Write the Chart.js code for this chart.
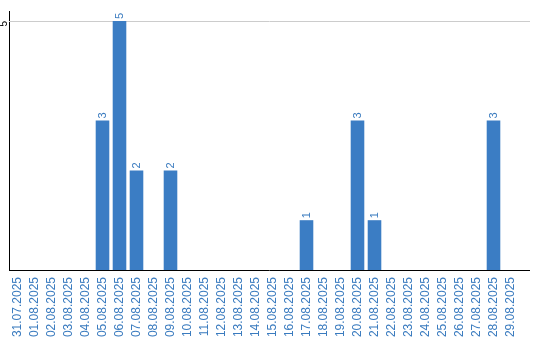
<!DOCTYPE html>
<html>
<head>
<meta charset="utf-8">
<script src="https://cdn.jsdelivr.net/npm/chart.js@4/dist/chart.umd.min.js"></script>
<style>
  html, body { margin: 0; padding: 0; background: #fff; }
  #wrap { width: 540px; height: 340px; position: relative; }
</style>
</head>
<body>
<div id="wrap"><canvas id="c" width="540" height="340"></canvas></div>
<script>
const categories = ["31.07.2025","01.08.2025","02.08.2025","03.08.2025","04.08.2025","05.08.2025","06.08.2025","07.08.2025","08.08.2025","09.08.2025","10.08.2025","11.08.2025","12.08.2025","13.08.2025","14.08.2025","15.08.2025","16.08.2025","17.08.2025","18.08.2025","19.08.2025","20.08.2025","21.08.2025","22.08.2025","23.08.2025","24.08.2025","25.08.2025","26.08.2025","27.08.2025","28.08.2025","29.08.2025"];
const counts = [0,0,0,0,0,3,5,2,0,2,0,0,0,0,0,0,0,1,0,0,3,1,0,0,0,0,0,0,3,0];
const yTicks = [5];

const BLUE = "#3b7dc4";
const TEXT_BLUE = "#3a7bbf";

const linesPlugin = {
  id: "lines",
  beforeDatasetsDraw(chart) {
    const ctx = chart.ctx, y = chart.scales.y, a = chart.chartArea;
    ctx.save();
    ctx.strokeStyle = "#cccccc";
    ctx.lineWidth = 1;
    yTicks.forEach(v => {
      const py = Math.round(y.getPixelForValue(v)) + 0.5;
      ctx.beginPath(); ctx.moveTo(a.left, py); ctx.lineTo(chart.width - 10, py); ctx.stroke();
    });
    ctx.restore();
  },
  afterDatasetsDraw(chart) {
    const ctx = chart.ctx, y = chart.scales.y, a = chart.chartArea;
    ctx.save();
    ctx.strokeStyle = "#000";
    ctx.lineWidth = 1;
    const py = Math.round(y.getPixelForValue(0)) + 0.5;
    ctx.beginPath(); ctx.moveTo(a.left, py); ctx.lineTo(chart.width - 10, py); ctx.stroke();
    // value labels
    const meta = chart.getDatasetMeta(0);
    ctx.fillStyle = TEXT_BLUE;
    ctx.font = "11px 'Liberation Sans'";
    ctx.textAlign = "left";
    ctx.textBaseline = "middle";
    meta.data.forEach((bar, i) => {
      const v = counts[i];
      if (!v) return;
      ctx.save();
      ctx.translate(bar.x, bar.y - 2);
      ctx.rotate(-Math.PI / 2);
      ctx.fillText(String(v), 0, 0);
      ctx.restore();
    });
    ctx.restore();
  }
};

new Chart(document.getElementById("c"), {
  type: "bar",
  data: {
    labels: categories,
    datasets: [{
      data: counts,
      backgroundColor: BLUE,
      borderWidth: 0,
      barPercentage: 0.8,
      categoryPercentage: 1.0
    }]
  },
  options: {
    responsive: false,
    animation: false,
    events: [],
    layout: { padding: { top: 10, right: 21, bottom: 0, left: 0 } },
    plugins: { legend: { display: false }, tooltip: { enabled: false } },
    scales: {
      x: {
        grid: { display: false, drawTicks: false },
        border: { display: false },
        ticks: {
          color: TEXT_BLUE,
          font: { family: "'Liberation Sans'", size: 12 },
          minRotation: 90, maxRotation: 90,
          padding: 7,
          autoSkip: false
        },
        afterFit(s) { s.height = 70; }
      },
      y: {
        min: 0, max: 5.2,
        grid: { display: false, drawTicks: false },
        border: { display: true, color: "#000", width: 1 },
        afterBuildTicks(s) { s.ticks = yTicks.map(v => ({ value: v })); },
        ticks: {
          color: "#000",
          font: { family: "'Liberation Sans'", size: 10 },
          minRotation: 90, maxRotation: 90,
          padding: 5
        },
        afterFit(s) { s.width = 9; }
      }
    }
  },
  plugins: [linesPlugin]
});
</script>
</body>
</html>
